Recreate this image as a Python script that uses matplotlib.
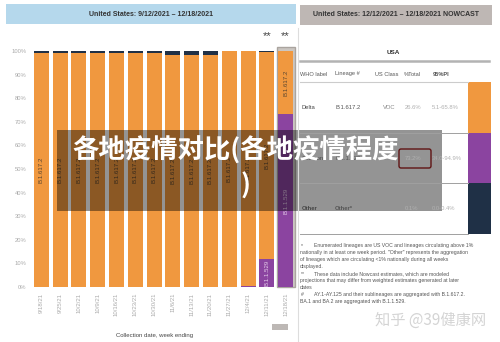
import numpy as np
import matplotlib.pyplot as plt
from matplotlib.patches import Rectangle, FancyBboxPatch

# data
weeks = ['9/18/21', '9/25/21', '10/2/21', '10/9/21', '10/16/21', '10/23/21', '10/30/21',
         '11/6/21', '11/13/21', '11/20/21', '11/27/21', '12/4/21', '12/11/21', '12/18/21']
omicron = [0, 0, 0, 0, 0, 0, 0, 0, 0, 0, 0, 0.4, 12.0, 73.2]
other = [0.8, 0.8, 0.7, 0.8, 0.7, 0.8, 0.8, 1.6, 1.7, 1.7, 0.2, 0.2, 0.5, 0.2]
delta = [100 - o - t for o, t in zip(omicron, other)]
nowcast = [False] * 12 + [True, True]

yticks = [0, 10, 20, 30, 40, 50, 60, 70, 80, 90, 100]

who_labels = ['Delta', 'Omicron', 'Other']
lineages = ['B.1.617.2', 'B.1.1.529', 'Other*']
us_class = ['VOC', 'VOC', '']
pct_total = ['26.6%', '73.2%', '0.1%']
pi_range = ['5.1-65.8%', '34.0-94.9%', '0.0-0.4%']

footnotes = [
    ('*', 'Enumerated lineages are US VOC and lineages circulating above 1%'),
    ('', 'nationally in at least one week period. "Other" represents the aggregation'),
    ('', 'of lineages which are circulating <1% nationally during all weeks'),
    ('', 'displayed.'),
    ('**', 'These data include Nowcast estimates, which are modeled'),
    ('', 'projections that may differ from weighted estimates generated at later'),
    ('', 'dates'),
    ('#', 'AY.1-AY.125 and their sublineages are aggregated with B.1.617.2.'),
    ('', 'BA.1 and BA.2 are aggregated with B.1.1.529.'),
]

c_delta = '#f0983f'
c_omi = '#8b44a0'
c_other = '#1f3046'

W, H = 500, 342
fig = plt.figure(figsize=(5, 3.42), dpi=100)
fig.patch.set_facecolor('white')


def px_axes(x0, y0, x1, y1, z=1):
    return fig.add_axes([x0 / W, 1 - y1 / H, (x1 - x0) / W, (y1 - y0) / H], zorder=z)


# bar chart
ax = px_axes(32, 51, 295, 287)
x = np.arange(len(weeks))
ax.add_patch(Rectangle((12.52, 0), 0.97, 101.8, facecolor='#cbc6c1', edgecolor='#aaa49f',
                       lw=1, clip_on=False, zorder=0))
ax.bar(x, omicron, width=0.8, color=c_omi, zorder=2)
ax.bar(x, delta, width=0.8, bottom=omicron, color=c_delta, zorder=2)
ax.bar(x, other, width=0.8, bottom=np.array(omicron) + np.array(delta), color=c_other, zorder=2)

for i in range(len(weeks)):
    if delta[i] > 8:
        ax.text(x[i], omicron[i] + delta[i] / 2, 'B.1.617.2', rotation=90, ha='center', va='center',
                fontsize=4.4, color='#5a4630', family='Liberation Sans', zorder=3)
    if omicron[i] > 8:
        ax.text(x[i], omicron[i] / 2, 'B.1.1.529', rotation=90, ha='center', va='center',
                fontsize=4.4, color='#e6cdea', family='Liberation Sans', zorder=3)
    if nowcast[i]:
        ax.text(x[i], 106.5, '**', ha='center', va='center', fontsize=8, color='#444',
                family='Liberation Sans', clip_on=False)

ax.set_xlim(-0.5, len(weeks) - 0.5)
ax.set_ylim(0, 100)
ax.set_yticks(yticks)
ax.set_yticklabels([f'{v}%' for v in yticks], fontsize=4.2, color='#aaaaaa', family='Liberation Sans')
ax.set_xticks(x)
ax.set_xticklabels(weeks, rotation=90, fontsize=4.3, color='#aaaaaa', family='Liberation Sans')
ax.tick_params(length=0, pad=4)
for s in ax.spines.values():
    s.set_visible(False)

# layout layer (headers, table, notes, overlay)
lay = px_axes(0, 0, W, H, z=5)
lay.set_xlim(0, W)
lay.set_ylim(H, 0)
lay.axis('off')

lay.add_patch(Rectangle((6, 4), 290, 20, facecolor='#b5d8ec', edgecolor='none'))
lay.text(151, 14, 'United States: 9/12/2021 – 12/18/2021', ha='center', va='center', fontsize=5,
         weight='bold', color='#333333', family='Liberation Sans')
lay.add_patch(Rectangle((300, 5), 192, 20, facecolor='#beb7b4', edgecolor='none'))
lay.text(396, 15, 'United States: 12/12/2021 – 12/18/2021 NOWCAST', ha='center', va='center',
         fontsize=5, weight='bold', color='#333333', family='Liberation Sans')
lay.plot([297.5, 297.5], [28, 342], color='#dddddd', lw=0.8)

lay.text(155, 336, 'Collection date, week ending', ha='center', va='center', fontsize=4.3,
         color='#444444', family='Liberation Sans')
lay.add_patch(Rectangle((272, 324), 16, 6, facecolor='#bdb8b5', edgecolor='none'))

# table
lay.text(393, 53, 'USA', ha='center', va='center', fontsize=4.6, weight='bold', color='#333333',
         family='Liberation Sans')
lay.plot([300, 489], [61, 61], color='#b3b3b3', lw=1.8)
heads = ['WHO label', 'Lineage #', 'US Class', '%Total', '95%PI']
head_x = [300, 335, 375, 404, 433]
for hx, h in zip(head_x, heads):
    lay.text(hx, 74, h, ha='left', va='center', fontsize=4.1, color='#555555',
             family='Liberation Sans', weight='bold' if h == '95%PI' else 'normal')
lay.plot([300, 468], [82, 82], color='#cccccc', lw=0.8)

row_colors = [c_delta, c_omi, c_other]
for i in range(3):
    y0 = 82 + 50.5 * i
    yc = y0 + 25.5
    lay.add_patch(Rectangle((468, y0), 23, 50.5, facecolor=row_colors[i], edgecolor='none'))
    lay.plot([300, 468], [y0 + 50.5, y0 + 50.5], color='#a0a0a0', lw=0.7)
    wt = 'bold' if i == 2 else 'normal'
    lay.text(302, yc, who_labels[i], ha='left', va='center', fontsize=4.2, color='#444444',
             family='Liberation Sans', weight=wt)
    lay.text(335, yc, lineages[i], ha='left', va='center', fontsize=4.2, color='#555555',
             family='Liberation Sans', weight=wt)
    lay.text(383, yc, us_class[i], ha='left', va='center', fontsize=4.2, color='#888888',
             family='Liberation Sans')
    lay.text(405, yc, pct_total[i], ha='left', va='center', fontsize=4.2, color='#b0b0b0',
             family='Liberation Sans')
    lay.text(432, yc, pi_range[i], ha='left', va='center', fontsize=4.2, color='#b0b0b0',
             family='Liberation Sans')
lay.add_patch(FancyBboxPatch((399, 149), 32, 19, boxstyle='round,pad=0,rounding_size=2',
                             facecolor='none', edgecolor='#a52222', lw=1))

for i, (mark, line) in enumerate(footnotes):
    y = 246 + 6.9 * i
    if mark:
        lay.text(301, y, mark, ha='left', va='center', fontsize=3.7, color='#555555',
                 family='Liberation Sans')
        lay.text(314, y, line, ha='left', va='center', fontsize=3.7, color='#555555',
                 family='Liberation Sans')
    else:
        lay.text(300, y, line, ha='left', va='center', fontsize=3.7, color='#555555',
                 family='Liberation Sans')

lay.text(431, 320, '知乎 @39健康网', ha='center', va='center', fontsize=11, color='#d4d4d4',
         family=['Noto Sans CJK SC', 'DejaVu Sans'])

# dark title overlay
lay.add_patch(Rectangle((57, 130), 385, 81, facecolor='black', alpha=0.42, edgecolor='none'))
lay.text(236, 151, '各地疫情对比(各地疫情程度', ha='center', va='center', fontsize=19,
         weight='bold', color='white', family=['Noto Sans CJK SC', 'DejaVu Sans'])
lay.text(246, 186, ')', ha='center', va='center', fontsize=19,
         weight='bold', color='white', family=['Noto Sans CJK SC', 'DejaVu Sans'])

fig.savefig('out.png', dpi=100)
